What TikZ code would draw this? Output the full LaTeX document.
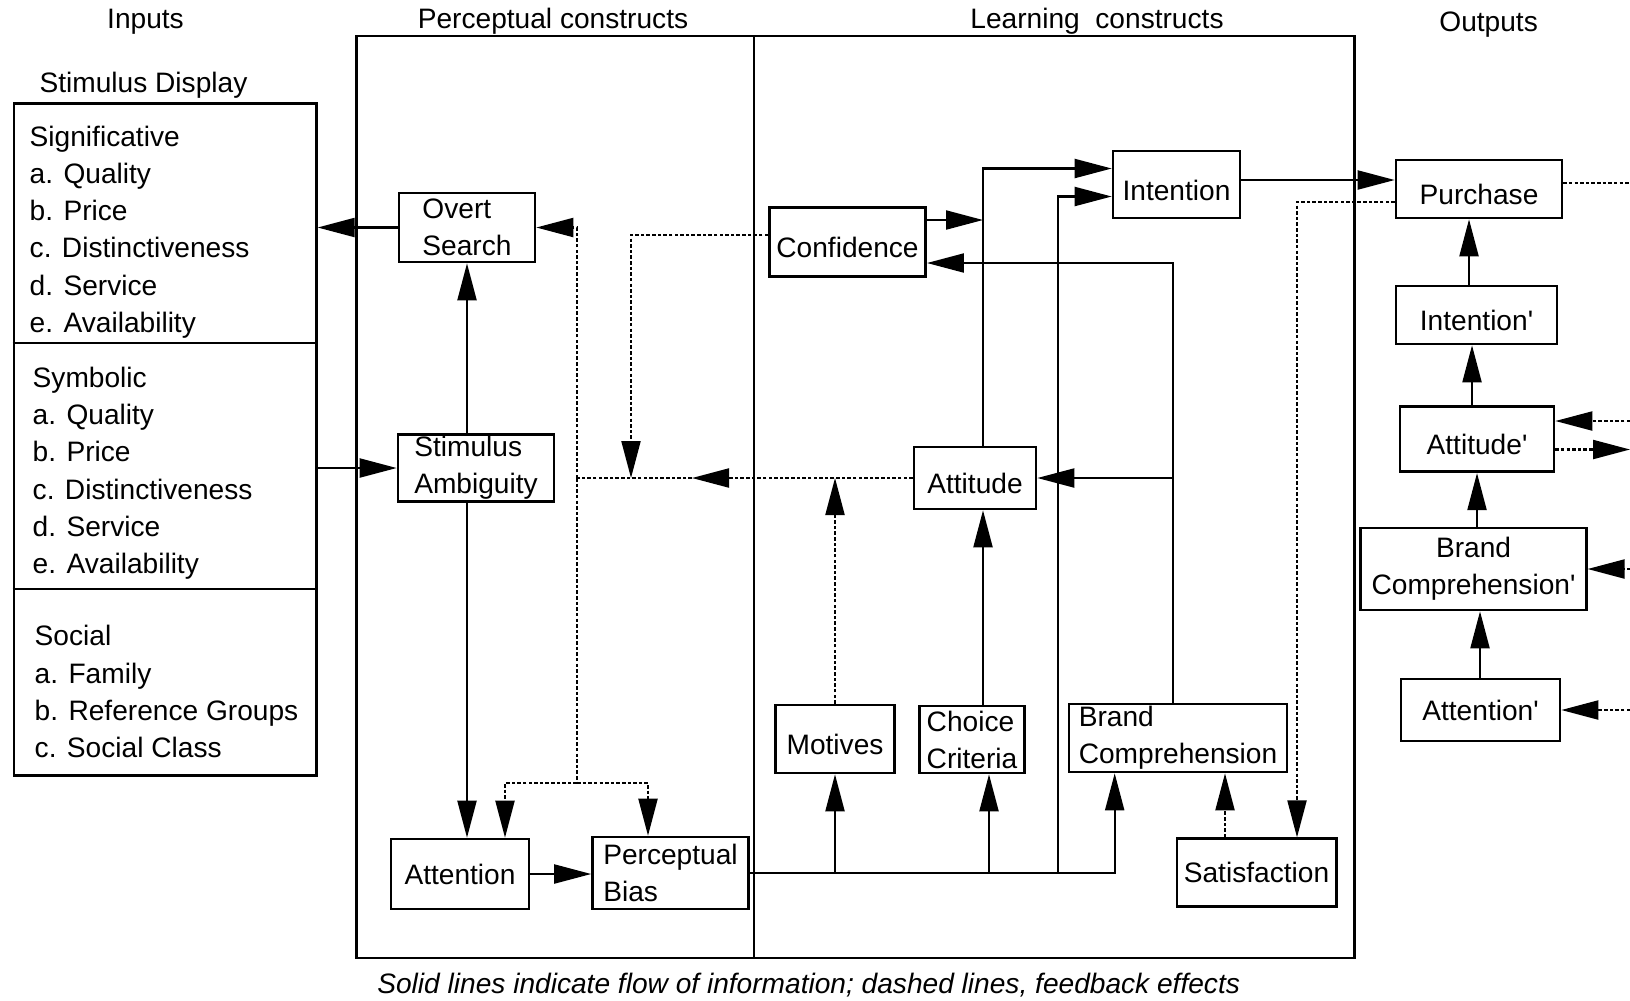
\documentclass[tikz,border=0pt]{standalone}
\usepackage{fontspec}
\setmainfont{Liberation Sans}
\usepackage{tikz}
\usetikzlibrary{arrows.meta, positioning, calc}

\begin{document}
\begin{tikzpicture}[
  x=0.1mm, y=-0.1mm,
  every node/.style={font=\fontsize{8pt}{10.53pt}\selectfont},
  box/.style={draw, line width=0.75pt, align=left, inner xsep=2pt, inner ysep=0pt},
  low/.style={text height=9pt, text depth=0pt},
  head/.style={anchor=base},
  line/.style={line width=0.6pt},
  fbline/.style={line, dash pattern=on 1pt off 0.6pt},
  flow/.style={line, -{Triangle[length=3.7mm, width=1.9mm]}},
  fb/.style={fbline, -{Triangle[length=3.7mm, width=1.9mm]}},
]
\useasboundingbox (0,0) rectangle (1630,1000);

% column headings
\node[head] (hin)   at (145.5,28)  {Inputs};
\node[head] (hper)  at (553,28)    {Perceptual constructs};
\node[head] (hlrn)  at (1097,28)   {Learning\ \ constructs};
\node[head] (hout)  at (1488.6,31) {Outputs};
\node[head] (hdisp) at (143.5,92)  {Stimulus Display};

% stimulus display
\node[draw, line width=0.75pt, anchor=north west, inner sep=0pt,
      minimum width=30.25mm, minimum height=67.2mm] (disp) at (12.5,102) {};
\draw[line width=0.75pt] (disp.west |- 0,343) -- (disp.east |- 0,343);
\draw[line width=0.75pt] (disp.west |- 0,589) -- (disp.east |- 0,589);
% (base anchor of a multi-line node is its last line)
\node[anchor=base west, align=left, inner sep=0pt] (sig) at (29,332)
  {Significative\\a. Quality\\b. Price\\c. Distinctiveness\\d. Service\\e. Availability};
\node[anchor=base west, align=left, inner sep=0pt] (sym) at (32,573)
  {Symbolic\\a. Quality\\b. Price\\c. Distinctiveness\\d. Service\\e. Availability};
\node[anchor=base west, align=left, inner sep=0pt] (soc) at (34,757)
  {Social\\a. Family\\b. Reference Groups\\c. Social Class};

% construct frames
\draw[line] (356.5,36.4) rectangle (1354.5,958.4);
\draw[line] (753.6,36.4) -- (753.6,958.4);

% perceptual constructs
\node[box, minimum width=13.6mm, minimum height=6.9mm]  (os)  at (467,227.5) {Overt\\Search};
\node[box, minimum width=15.6mm, minimum height=6.65mm] (sa)  at (476,468)   {Stimulus\\Ambiguity};
\node[box, minimum width=13.8mm, minimum height=7mm]    (att) at (460,874)   {Attention};
\node[box, minimum width=15.6mm, minimum height=7.2mm]  (pb)  at (670.5,873) {Perceptual\\Bias};

% learning constructs
\node[box, low, minimum width=15.5mm, minimum height=6.85mm] (conf) at (847.5,242)    {Confidence};
\node[box, low, minimum width=12.7mm, minimum height=6.7mm]  (int)  at (1176.5,184.5) {Intention};
\node[box, low, minimum width=12.2mm, minimum height=6.2mm]  (atd)  at (975,478)      {Attitude};
\node[box, low, minimum width=11.85mm, minimum height=6.8mm] (mot)  at (835,739)      {Motives};
\node[box, minimum width=9.4mm, minimum height=6.7mm]   (cc)   at (972,739.5)    {Choice\\Criteria};
\node[box, minimum width=21.8mm, minimum height=6.8mm]  (bc)   at (1178,738)     {Brand\\Comprehension};
\node[box, minimum width=15.5mm, minimum height=6.8mm]  (sat)  at (1256.5,872.7) {Satisfaction};

% outputs
\node[box, low, minimum width=16.6mm, minimum height=5.8mm]  (pur)  at (1479,189)   {Purchase};
\node[box, low, minimum width=16.1mm, minimum height=5.8mm]  (int2) at (1476.5,315) {Intention\textquotesingle};
\node[box, low, minimum width=15.4mm, minimum height=6.55mm] (atd2) at (1477,439)   {Attitude\textquotesingle};
\node[box, minimum width=22.55mm, minimum height=8.2mm, align=center] (bc2) at (1473.5,569) {Brand\\Comprehension\textquotesingle};
\node[box, minimum width=15.9mm, minimum height=6.2mm]  (att2) at (1480.5,710) {Attention\textquotesingle};

% taps and bends
\coordinate (tA) at (983,0);
\coordinate (tC) at (989,0);
\coordinate (tI) at (1058,0);
\coordinate (tB) at (1173,0);
\coordinate (tS) at (1225,0);
\coordinate (tP) at (1297,0);
\coordinate (tO1) at (1469,0);
\coordinate (tO2) at (1472,0);
\coordinate (tO3) at (1477,0);
\coordinate (tO4) at (1480,0);
\coordinate (edge) at (1630,0);
\coordinate (fbL) at (577,478);
\coordinate (fbTip) at (692,478);
\coordinate (fbS) at (577,783);
\coordinate (cfTip) at (631,478);
\coordinate (cfR) at ([yshift=2.2mm]conf.east);
\coordinate (iR) at ([yshift=0.45mm]int.east);
\coordinate (pR) at ([yshift=0.6mm]pur.east);
\coordinate (a2i) at ([yshift=1.8mm]atd2.east);
\coordinate (a2o) at ([yshift=-1.05mm]atd2.east);

% information flow
\draw[flow] (os.west) -- (os.west -| disp.east);
\draw[flow] (sa.west -| disp.east) -- (sa.west);
\draw[flow] (sa.north -| os.south) -- (os.south);
\draw[flow] (sa.south -| os.south) -- (att.north -| os.south);
\draw[flow] (att.east) -- (att.east -| pb.west);
\draw[flow] (pb.east) -| ([xshift=4.7mm]bc.south west);
\draw[flow] (pb.east -| mot.south) -- (mot.south);
\draw[flow] (pb.east -| tC) -- (cc.south -| tC);
\draw[flow] (pb.east -| tI) |- ([yshift=-1.2mm]int.west);
\draw[flow] (cc.north -| tA) -- (atd.south -| tA);
\draw[flow] (atd.north -| tA) |- ([yshift=1.6mm]int.west);
\draw[flow] (cfR) -- (cfR -| tA);
\draw[flow] (bc.north -| tB) |- ([yshift=-2.1mm]conf.east);
\draw[flow] (atd.east -| tB) -- (atd.east);
\draw[flow] (iR) -- (iR -| pur.west);
\draw[flow] (int2.north -| tO1) -- (pur.south -| tO1);
\draw[flow] (atd2.north -| tO2) -- (int2.south -| tO2);
\draw[flow] (bc2.north -| tO3) -- (atd2.south -| tO3);
\draw[flow] (att2.north -| tO4) -- (bc2.south -| tO4);

% feedback effects
\draw[fb] (atd.west) -- (fbTip);
\draw[fbline] (fbTip) -- (fbL);
\draw[fb] (fbL) |- (os.east);
\draw[fbline] (fbL) -- (fbS);
\draw[fb] (fbS) -| ([xshift=4.5mm]att.north);
\draw[fb] (fbS) -| ([xshift=-2.25mm]pb.north);
\draw[fb] ([yshift=0.7mm]conf.west) -| (cfTip);
\draw[fb] (mot.north) -- (mot.north |- atd.west);
\draw[fb] (sat.north -| tS) -- (bc.south -| tS);
\draw[fb] ([yshift=-1.3mm]pur.west) -| (sat.north -| tP);
\draw[fbline] (pR) -- (pR -| edge);
\draw[fb] (a2i -| edge) -- (a2i);
\draw[fb] (a2o) -- (a2o -| edge);
\draw[fb] (bc2.east -| edge) -- (bc2.east);
\draw[fb] (att2.east -| edge) -- (att2.east);

% legend
\node[anchor=base, font=\fontsize{8pt}{10pt}\selectfont\itshape] (note) at (808.7,993)
  {Solid lines indicate flow of information; dashed lines, feedback effects};

\end{tikzpicture}
\end{document}
